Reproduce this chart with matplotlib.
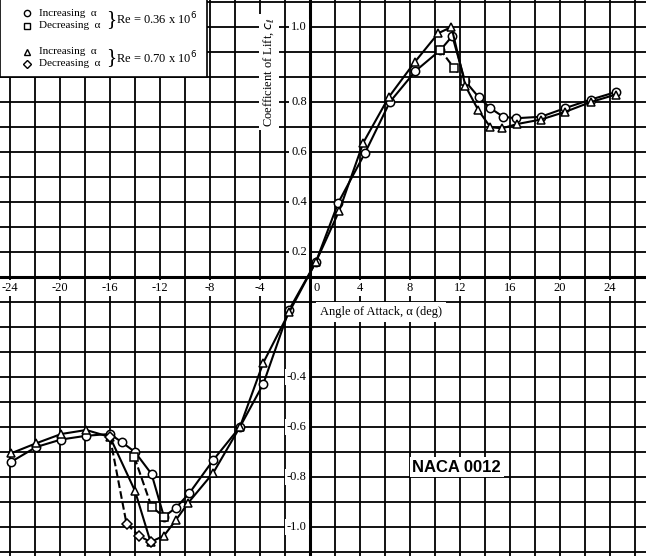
import matplotlib
matplotlib.use("Agg")
import matplotlib.pyplot as plt
import numpy as np

# Re = 0.36e6
a36_inc = [-23.9, -21.9, -19.9, -17.9, -16.0, -15.07, -14.0, -12.67, -11.68, -10.72, -9.65, -7.73, -5.6, -3.73, -1.65, 0.48,
           2.27, 4.4, 6.4, 8.45, 10.45, 11.4, 12.4, 13.5, 14.45, 15.47, 16.5, 18.5, 20.4, 22.5, 24.5]
c36_inc = [-0.739, -0.68, -0.65, -0.635, -0.628, -0.66, -0.70, -0.788, -0.959, -0.923, -0.865, -0.732, -0.6, -0.428, -0.13, 0.06,
           0.297, 0.495, 0.70, 0.824, 0.908, 0.964, 0.785, 0.72, 0.675, 0.641, 0.635, 0.641, 0.675, 0.71, 0.74]
a36_dec = [-14.05, -12.67, -11.68]
c36_dec = [-0.72, -0.919, -0.959]
a36_dec2 = [12.4, 11.55, 10.45]
c36_dec2 = [0.785, 0.835, 0.908]
# Re = 0.70e6
a70_inc = [-23.9, -21.9, -19.9, -17.9, -16.0, -14.0, -12.75, -11.68, -10.72, -9.73, -7.73, -5.6, -3.73, -1.65, 0.48,
           2.35, 4.27, 6.32, 8.4, 10.27, 11.33, 12.45, 13.47, 14.45, 15.4, 16.6, 18.5, 20.4, 22.5, 24.5]
c70_inc = [-0.705, -0.665, -0.628, -0.612, -0.64, -0.855, -1.06, -1.035, -0.972, -0.903, -0.783, -0.6, -0.343, -0.14, 0.06,
           0.265, 0.537, 0.72, 0.86, 0.975, 1.00, 0.764, 0.668, 0.599, 0.595, 0.612, 0.63, 0.66, 0.70, 0.73]
a70_dec = [-16.0, -14.67, -13.65, -12.75]
c70_dec = [-0.64, -0.988, -1.036, -1.06]

xticks = [-24, -20, -16, -12, -8, -4, 0, 4, 8, 12, 16, 20, 24]
ypos_ticks = [0.1, 0.3, 0.5, 0.7, 1.0]
ypos_labels = ["0.2", "0.4", "0.6", "0.8", "1.0"]
yneg_ticks = [-0.4, -0.6, -0.8, -1.0]
yneg_labels = ["-0.4", "-0.6", "-0.8", "-1.0"]

serif = ["Liberation Serif", "DejaVu Serif"]
fig = plt.figure(figsize=(6.46, 5.56), dpi=100)
ax = fig.add_axes([0, 0, 1, 1])
ax.set_xlim(-24.8, 26.9)
ax.set_ylim(-1.116, 1.108)
ax.axis("off")
for x in np.arange(-24, 27, 2):
    ax.axvline(x, color="k", lw=1.3, zorder=0)
for y in np.arange(-11, 12) / 10:
    ax.axhline(y, color="k", lw=1.3, zorder=0)
ax.axhline(0, color="k", lw=2.2, zorder=1)
ax.axvline(0, color="k", lw=2.2, zorder=1)

mk = dict(ms=6, mfc="white", mec="k", mew=1.1, color="k", lw=1.5, zorder=5)
ax.plot(a36_inc, c36_inc, "-o", **mk)
ax.plot(a36_dec, c36_dec, "--s", **mk)
ax.plot(a36_dec2, c36_dec2, "--s", **mk)
ax.plot(a70_inc, c70_inc, "-^", **mk)
ax.plot(a70_dec, c70_dec, "--D", **dict(mk, ms=5))

bb = dict(facecolor="white", edgecolor="none", pad=1.5)
for x in xticks:
    if x == 0:
        continue
    ax.text(x, -0.045, f"{x}", ha="center", va="center", fontsize=9, family=serif, bbox=bb, zorder=6)
ax.text(0.3, -0.045, "0", ha="left", va="center", fontsize=9, family=serif, bbox=bb, zorder=6)
for y, l in zip(ypos_ticks + yneg_ticks, ypos_labels + yneg_labels):
    ax.text(-0.25, y, l, ha="right", va="center", fontsize=9, family=serif, bbox=bb, zorder=6)
ax.text(0.8, -0.14, "Angle of Attack, α (deg)", ha="left", va="center", fontsize=9, family=serif,
        bbox=dict(facecolor="white", edgecolor="none", pad=3), zorder=6)
ax.text(-3.3, 0.82, "Coefficient of Lift, $c_\\ell$", rotation=90, ha="center", va="center", fontsize=9,
        family=serif, bbox=dict(facecolor="white", edgecolor="none", pad=2), zorder=6)

# legend box
ax.add_patch(plt.Rectangle((-24.8, 0.80), 16.6, 0.32, facecolor="white", edgecolor="k", lw=1.2, zorder=6))
lx = -22.6
rows = [(1.056, "o", "Increasing  α"), (1.004, "s", "Decreasing  α"),
        (0.900, "^", "Increasing  α"), (0.852, "D", "Decreasing  α")]
for y, m, t in rows:
    ax.plot([lx], [y], m, ms=4.5 if m != "D" else 4, mfc="white", mec="k", zorder=7)
    ax.text(-21.7, y, t, ha="left", va="center", fontsize=8, family=serif, zorder=7)
ax.text(-16.3, 1.030, "}", ha="left", va="center", fontsize=15, family=serif, zorder=7)
ax.text(-16.3, 0.876, "}", ha="left", va="center", fontsize=15, family=serif, zorder=7)
ax.text(-15.5, 1.030, "Re = 0.36 x 10$^6$", ha="left", va="center", fontsize=9, family=serif, zorder=7)
ax.text(-15.5, 0.876, "Re = 0.70 x 10$^6$", ha="left", va="center", fontsize=9, family=serif, zorder=7)

ax.text(8.2, -0.76, "NACA 0012", ha="left", va="center", fontsize=12, fontweight="bold",
        family=["Liberation Sans", "DejaVu Sans"], bbox=dict(facecolor="white", edgecolor="none", pad=2), zorder=6)

fig.savefig("out.png", dpi=100)
